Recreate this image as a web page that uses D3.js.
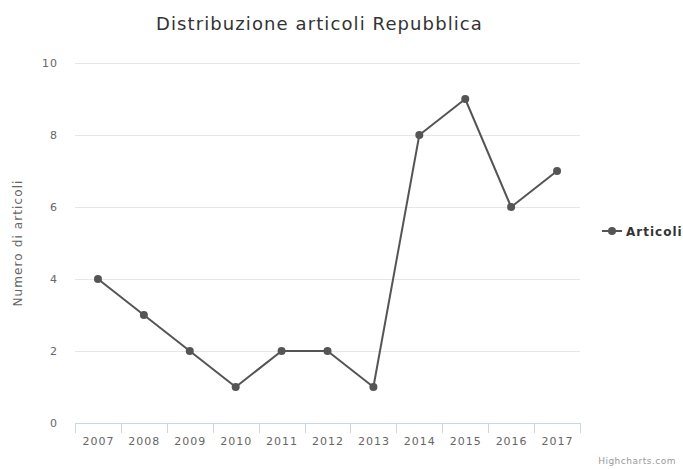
<!DOCTYPE html>
<html><head><meta charset="utf-8">
<script src="https://cdn.jsdelivr.net/npm/d3@7"></script>
<style>body{margin:0;background:#fff;}svg{display:block;font-family:"DejaVu Sans",sans-serif;}</style>
</head><body>
<svg id="c" width="683" height="469"></svg>
<script>
const categories = ["2007","2008","2009","2010","2011","2012","2013","2014","2015","2016","2017"];
const values = [4,3,2,1,2,2,1,8,9,6,7];
const yTicks = [0,2,4,6,8,10];
const seriesName = "Articoli";
const titleText = "Distribuzione articoli Repubblica";
const yTitle = "Numero di articoli";

const svg = d3.select("#c");
const L = 75, R = 580, T = 63, B = 423;
const x = d3.scaleBand().domain(categories).range([L, R]);
const y = d3.scaleLinear().domain([0,10]).range([B, T]);

svg.append("text").attr("x",319.5).attr("y",30).attr("text-anchor","middle")
  .attr("font-size",18).attr("letter-spacing",1.1).attr("fill","#333").text(titleText);

// gridlines
svg.append("g").selectAll("line").data(yTicks.filter(d=>d>0)).join("line")
  .attr("x1",L).attr("x2",R).attr("y1",d=>Math.round(y(d))+0.5).attr("y2",d=>Math.round(y(d))+0.5)
  .attr("stroke","#e6e6e6").attr("stroke-width",1);

// y labels
svg.append("g").selectAll("text").data(yTicks).join("text")
  .attr("x",58).attr("y",d=>y(d)+4).attr("text-anchor","end")
  .attr("font-size",11).attr("letter-spacing",1).attr("fill","#666").text(d=>d);

svg.append("text").attr("transform",`translate(22,${(T+B)/2}) rotate(-90)`)
  .attr("text-anchor","middle").attr("font-size",12).attr("letter-spacing",1.1).attr("fill","#666").text(yTitle);

// x axis
const xa = svg.append("g");
xa.append("line").attr("x1",L).attr("x2",R).attr("y1",B+0.5).attr("y2",B+0.5).attr("stroke","#ccd6eb");
const tickPos = categories.map(c=>x(c)).concat([R]);
xa.selectAll("line.t").data(tickPos).join("line").attr("class","t")
  .attr("x1",d=>Math.round(d)+0.5).attr("x2",d=>Math.round(d)+0.5).attr("y1",B).attr("y2",B+10)
  .attr("stroke","#ccd6eb");
xa.selectAll("text").data(categories).join("text")
  .attr("x",d=>x(d)+x.bandwidth()/2+0.5).attr("y",B+22).attr("text-anchor","middle")
  .attr("font-size",11).attr("letter-spacing",1).attr("fill","#666").text(d=>d);

// line
const cx = (d,i)=>x(categories[i])+x.bandwidth()/2;
svg.append("path").datum(values)
  .attr("d", d3.line().x(cx).y(d=>y(d)))
  .attr("fill","none").attr("stroke","#555").attr("stroke-width",2).attr("stroke-linejoin","round");
svg.append("g").selectAll("circle").data(values).join("circle")
  .attr("cx",cx).attr("cy",d=>y(d)).attr("r",4).attr("fill","#555");

// legend
const lg = svg.append("g").attr("transform","translate(602,231)");
lg.append("line").attr("x1",0).attr("x2",20).attr("y1",0).attr("y2",0).attr("stroke","#555").attr("stroke-width",2);
lg.append("circle").attr("cx",10).attr("cy",0).attr("r",4).attr("fill","#555");
lg.append("text").attr("x",24).attr("y",4.5).attr("font-size",12).attr("font-weight","bold").attr("letter-spacing",1).attr("fill","#333").text(seriesName);

svg.append("text").attr("x",676).attr("y",464).attr("text-anchor","end").attr("font-size",9).attr("letter-spacing",0.5).attr("fill","#999").text("Highcharts.com");
</script>
</body></html>
